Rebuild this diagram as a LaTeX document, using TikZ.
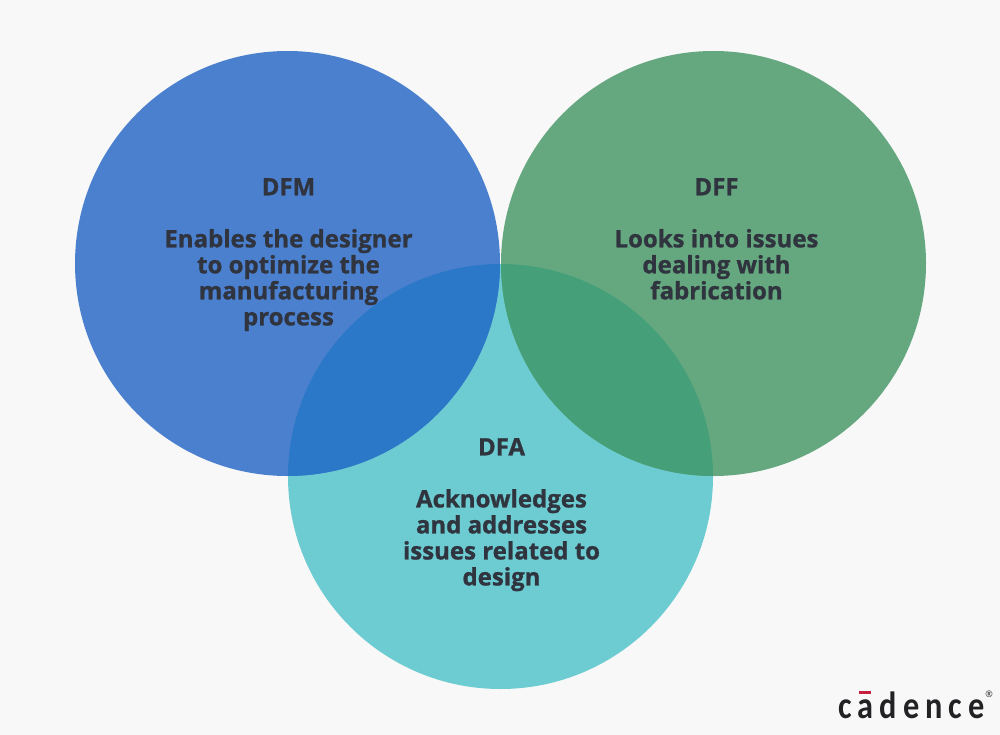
\documentclass[tikz,border=0pt]{standalone}
\usepackage{fontspec}
\setmainfont{Open Sans}[BoldFont={Open Sans Bold},BoldFeatures={FakeBold=1}]
\newfontfamily\logofont[FakeStretch=0.85,LetterSpace=16]{Carlito Bold}
\definecolor{bgc}{HTML}{F8F8F8}
\definecolor{bluec}{HTML}{4B80CF}
\definecolor{greenc}{HTML}{65A880}
\definecolor{tealc}{HTML}{6CCCD2}
\definecolor{blueov}{HTML}{2B78C8}
\definecolor{greenov}{HTML}{45A07A}
\definecolor{txtc}{HTML}{30343E}
\definecolor{logoc}{HTML}{222225}
\definecolor{logored}{HTML}{C8203F}
\tikzset{
  vennlabel/.style={align=center,text=txtc,font=\bfseries\fontsize{24}{26}\selectfont,inner sep=0pt,anchor=north},
}
\begin{document}
\begin{tikzpicture}[x=1pt,y=-1pt]
\useasboundingbox (0,0) rectangle (1000,735);
\fill[bgc] (0,0) rectangle (1000,735);
\def\R{212.5pt}
\fill[tealc] (500.5,476.5) circle[radius=\R];
\fill[bluec] (287.5,263.5) circle[radius=\R];
\fill[greenc] (713.5,263.5) circle[radius=\R];
\begin{scope}
  \clip (500.5,476.5) circle[radius=\R];
  \fill[blueov] (287.5,263.5) circle[radius=\R];
  \fill[greenov] (713.5,263.5) circle[radius=\R];
\end{scope}
\node[vennlabel] (dfm) at (288.5,178) {DFM\\[26pt]Enables the designer\\to optimize the\\manufacturing\\process};
\node[vennlabel] (dff) at (716.5,178) {DFF\\[26pt]Looks into issues\\dealing with\\fabrication};
\node[vennlabel] (dfa) at (501.5,438) {DFA\\[26pt]Acknowledges\\and addresses\\issues related to\\design};
\node[inner sep=0pt,anchor=base,text=logoc,font=\logofont\fontsize{38}{38}\selectfont] (logo) at (911.5,718) {cadence};
\fill[logored] (859,691) rectangle (871,694);
\node[inner sep=0pt,text=logoc,font=\fontsize{9}{9}\selectfont] (reg) at (989,694) {®};
\end{tikzpicture}
\end{document}
